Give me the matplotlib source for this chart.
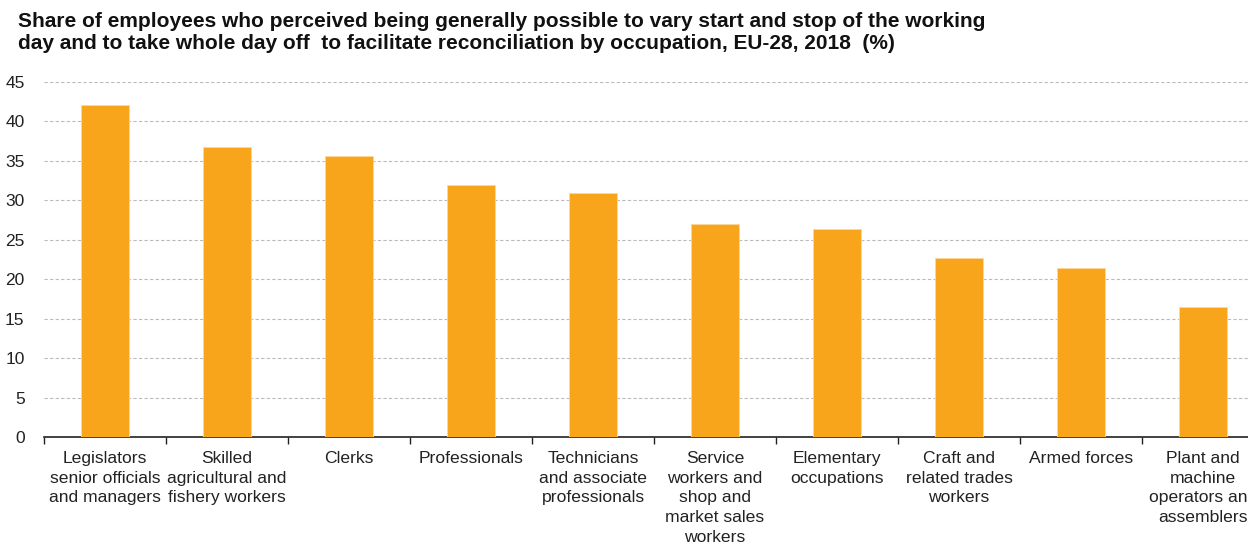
import numpy as np
from matplotlib import pyplot as plt

occupations = [
    "Legislators\nsenior officials\nand managers",
    "Skilled\nagricultural and\nfishery workers",
    "Clerks",
    "Professionals",
    "Technicians\nand associate\nprofessionals",
    "Service\nworkers and\nshop and\nmarket sales\nworkers",
    "Elementary\noccupations",
    "Craft and\nrelated trades\nworkers",
    "Armed forces",
    "Plant and\nmachine\noperators and\nassemblers",
]
share = [42.1, 36.7, 35.6, 31.9, 30.9, 27.0, 26.4, 22.7, 21.4, 16.5]
y_ticks = [0, 5, 10, 15, 20, 25, 30, 35, 40, 45]

plt.rcParams["font.family"] = ["Liberation Sans", "DejaVu Sans"]

fig = plt.figure(figsize=(12.48, 5.44), dpi=100)
ax = fig.add_axes([44 / 1248, 1 - 437 / 544, 1220 / 1248, 355 / 544])

x = np.arange(len(occupations))
ax.bar(x, share, width=0.39, color="#F9A51B", edgecolor="#FCD79A", linewidth=0.6, zorder=3)

ax.set_xlim(-0.5, len(occupations) - 0.5)
ax.set_ylim(0, 45)
ax.set_yticks(y_ticks)
ax.tick_params(axis="y", length=0, labelsize=12.5, colors="#222222", pad=14)
ax.yaxis.grid(True, linestyle=(0, (3, 2)), color="#BBBBBB", linewidth=0.8, zorder=0)

ax.set_xticks(x)
ax.set_xticklabels(occupations, fontsize=12.6, color="#222222", va="top", linespacing=1.4)
ax.tick_params(axis="x", length=0, pad=10)
# category boundary ticks
ax.set_xticks(np.arange(len(occupations) + 1) - 0.5, minor=True)
ax.tick_params(axis="x", which="minor", length=5, width=1, direction="out", color="#222222")

for side in ["top", "right", "left"]:
    ax.spines[side].set_visible(False)
ax.spines["bottom"].set_color("#222222")
ax.spines["bottom"].set_linewidth(1.2)

fig.text(18 / 1248, 1 - 12 / 544,
         "Share of employees who perceived being generally possible to vary start and stop of the working\n"
         "day and to take whole day off  to facilitate reconciliation by occupation, EU-28, 2018  (%)",
         fontsize=15, fontweight="bold", va="top", ha="left", linespacing=1.2, color="#111111")

fig.savefig("out.png", dpi=100)
